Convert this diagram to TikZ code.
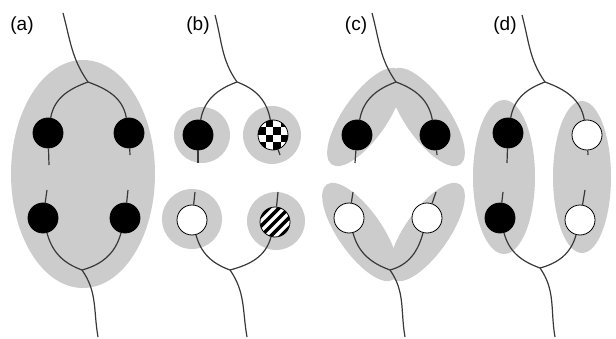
\documentclass[tikz,border=0pt]{standalone}
\usepackage{fontspec}
\setmainfont{Liberation Sans}
\definecolor{fond}{gray}{0.80}
\definecolor{trait}{gray}{0.22}
\tikzstyle{zone}=[fill=fond]
\tikzstyle{titre}=[font=\fontsize{19}{21}\selectfont,inner sep=0pt]
\tikzstyle{bille}=[circle,draw=black,line width=0.8pt,minimum size=30pt,inner sep=0pt]
\tikzstyle{noire}=[bille,fill=black]
\tikzstyle{blanche}=[bille,fill=white]
\tikzstyle{damier}=[bille,fill=white,path picture={
  \foreach \i in {-2,...,1}{\foreach \j in {-2,...,1}{
    \pgfmathtruncatemacro\p{mod(\i+\j+4,2)}
    \ifnum\p=0 \fill[black,shift={(path picture bounding box.center)}] (\i*7.5,\j*7.5) rectangle ++(7.5,7.5);\fi}}}]
\tikzstyle{raye}=[bille,fill=white,path picture={
  \foreach \k in {-3,...,3}{
    \draw[line width=3.5pt,shift={(path picture bounding box.center)}] (\k*9.9-20,-20) -- (\k*9.9+20,20);}}]
\tikzstyle{brin}=[draw=trait,line width=1.2pt]

\begin{document}
\begin{tikzpicture}[x=1pt,y=1pt]
\useasboundingbox (0,0) rectangle (616,338);
%zones grises
\fill[zone] (83,164) ellipse (72 and 114);
\fill[zone] (202,203) circle (28);
\fill[zone] (272,203) circle (29);
\fill[zone] (192,119) circle (30);
\fill[zone] (276,117) circle (29);
\fill[zone,rotate around={55:(365,221)}] (365,221) ellipse (58 and 22);
\fill[zone,rotate around={-55:(427,221)}] (427,221) ellipse (58 and 22);
\fill[zone,rotate around={-55:(360,106)}] (360,106) ellipse (58 and 22);
\fill[zone,rotate around={55:(427,106)}] (427,106) ellipse (58 and 22);
\fill[zone] (504,161) ellipse (31 and 77);
\fill[zone] (582,161) ellipse (29 and 76);
%titres
\node[titre] (ta) at (22,312) {(a)};
\node[titre] (tb) at (198,312) {(b)};
\node[titre] (tc) at (356,312) {(c)};
\node[titre] (td) at (505,312) {(d)};
%(a)
\node[noire] (a1) at (48,205) {};
\node[noire] (a2) at (129,205) {};
\node[noire] (a3) at (43,120) {};
\node[noire] (a4) at (125,120) {};
\coordinate (ha) at (63,325);
\coordinate (bra) at (88,256);
\coordinate (sa1) at (49,173);
\coordinate (sa2) at (130,183);
\coordinate (sa3) at (47,148);
\coordinate (sa4) at (128,148);
\coordinate (joa) at (82,68);
\coordinate (ba) at (98,1);
%(b)
\node[noire] (b1) at (198,203) {};
\node[damier] (b2) at (273,203) {};
\node[blanche] (b3) at (192,118) {};
\node[raye] (b4) at (275,116) {};
\coordinate (hb) at (215,323);
\coordinate (brb) at (237,256);
\coordinate (sb1) at (198,175);
\coordinate (sb2) at (280,183);
\coordinate (sb3) at (195,146);
\coordinate (sb4) at (278,146);
\coordinate (job) at (230,68);
\coordinate (bb) at (247,1);
%(c)
\node[noire] (c1) at (357,203) {};
\node[noire] (c2) at (435,203) {};
\node[blanche] (c3) at (349,120) {};
\node[blanche] (c4) at (427,120) {};
\coordinate (hc) at (372,325);
\coordinate (brc) at (396,256);
\coordinate (sc1) at (355,175);
\coordinate (sc2) at (437,183);
\coordinate (sc3) at (353,146);
\coordinate (sc4) at (436,146);
\coordinate (joc) at (390,68);
\coordinate (bc) at (405,1);
%(d)
\node[noire] (d1) at (508,205) {};
\node[blanche] (d2) at (587,203) {};
\node[noire] (d3) at (500,120) {};
\node[blanche] (d4) at (580,118) {};
\coordinate (hd) at (522,323);
\coordinate (brd) at (545,256);
\coordinate (sd1) at (507,175);
\coordinate (sd2) at (588,183);
\coordinate (sd3) at (503,146);
\coordinate (sd4) at (585,148);
\coordinate (jod) at (540,70);
\coordinate (bd) at (555,1);
%fils
\foreach \p in {a,b,c,d}{
  \draw[brin] (h\p) to[out=-75,in=125] (br\p);
  \draw[brin] (br\p) to[out=200,in=80] (\p1);
  \draw[brin] (br\p) to[out=-20,in=100] (\p2);
  \draw[brin] (\p1) -- (s\p1);
  \draw[brin] (\p2) -- (s\p2);
  \draw[brin] (\p3) -- (s\p3);
  \draw[brin] (\p4) -- (s\p4);
  \draw[brin] (\p3) to[out=-75,in=160] (jo\p);
  \draw[brin] (\p4) to[out=-105,in=15] (jo\p);
  \draw[brin] (jo\p) to[out=-55,in=100] (b\p);
}
\end{tikzpicture}
\end{document}
